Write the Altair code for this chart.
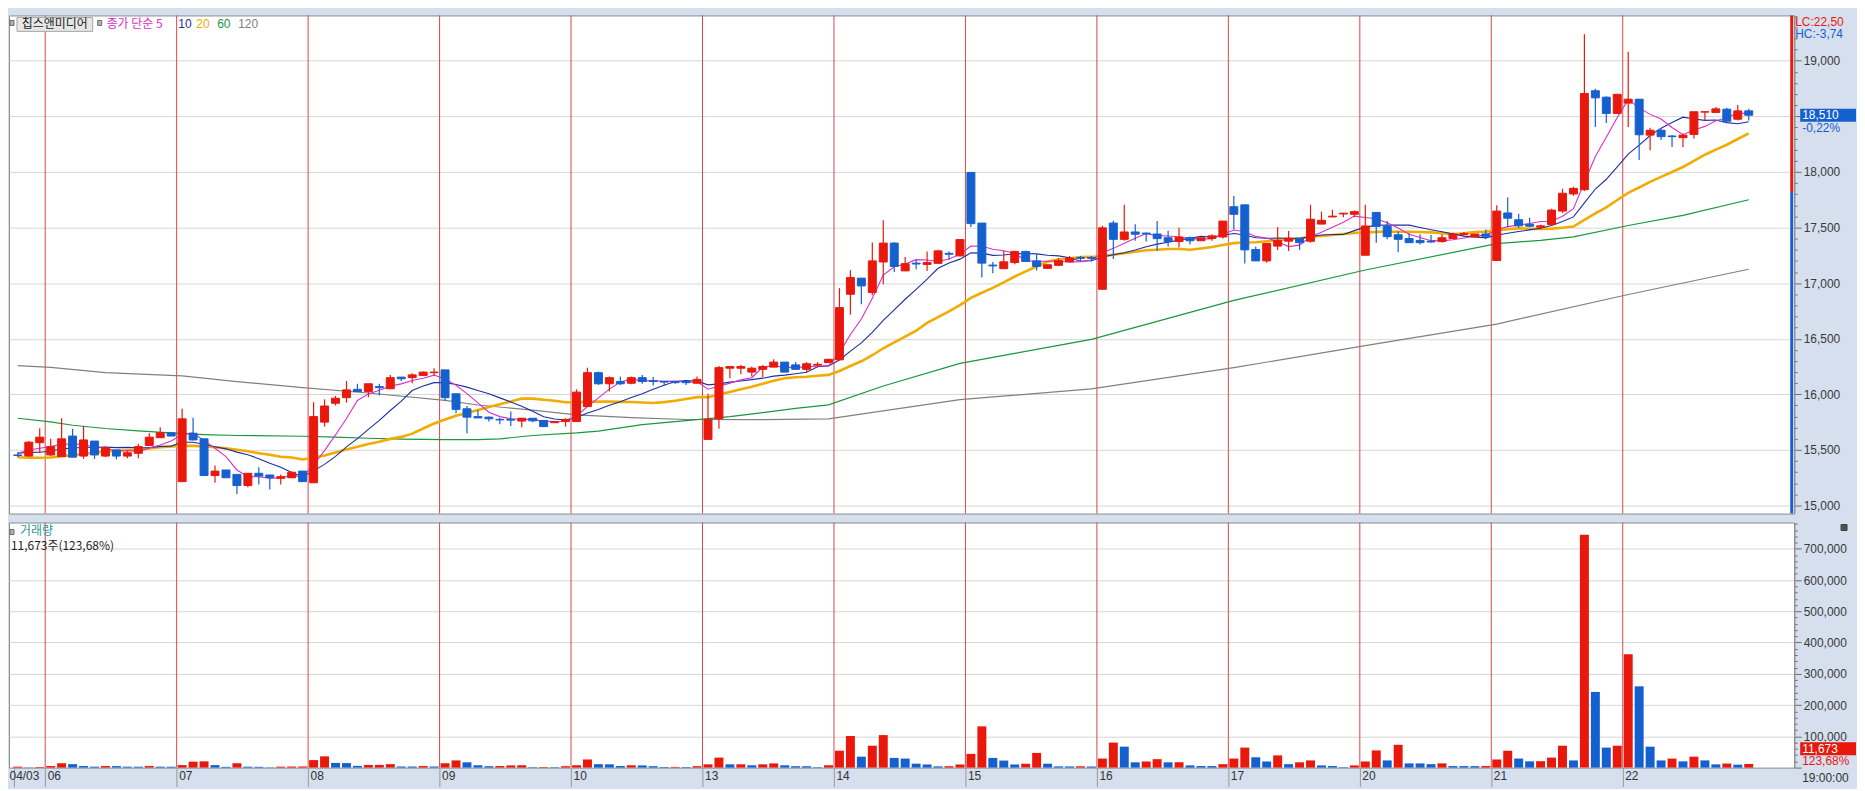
import altair as alt
import pandas as pd
import numpy as np

# ---------------- data ----------------
day_labels = ["04/03", "06", "07", "08", "09", "10", "13", "14", "15", "16", "17", "20", "21", "22"]
day_starts = [0, 3, 15, 27, 39, 51, 63, 75, 87, 99, 111, 123, 135, 147]

opens = [15455, 15445, 15565, 15455, 15440, 15625, 15445, 15580, 15445, 15500, 15445, 15470, 15540, 15610, 15655,
         15215, 15650, 15600, 15270, 15320, 15280, 15180, 15290, 15275, 15245, 15250, 15310,
         15205, 15750, 15920, 15970, 16045, 16025, 16070, 16050, 16155, 16150, 16170, 16195,
         16220, 16005, 15870, 15800, 15795, 15775, 15775, 15760, 15785, 15765, 15745, 15755,
         15755, 15890, 16195, 16095, 16115, 16100, 16150, 16122, 16117, 16115, 16115, 16100,
         15595, 15780, 16235, 16235, 16200, 16225, 16245, 16290, 16265, 16225, 16262, 16285,
         16310, 16900, 17045, 16915, 17190, 17360, 17110, 17180, 17168, 17178, 17268, 17245,
         17995, 17540, 17162, 17130, 17185, 17285, 17200, 17133, 17160, 17192, 17230, 17230,
         16945, 17540, 17394, 17460, 17450, 17442, 17408, 17374, 17408, 17381, 17401, 17415,
         17687, 17704, 17302, 17200, 17333, 17377, 17404, 17377, 17531, 17595, 17622, 17619,
         17251, 17636, 17510, 17435, 17401, 17384, 17377, 17374, 17401, 17439, 17415, 17442,
         17203, 17631, 17570, 17529, 17503, 17526, 17648, 17802, 17840, 18730, 18672, 18526,
         18619, 18654, 18331, 18375, 18323, 18308, 18337, 18538, 18535, 18564, 18474, 18549]
highs = [15480, 15580, 15695, 15600, 15785, 15690, 15715, 15580, 15530, 15500, 15490, 15555, 15650, 15705, 15655,
         15870, 15790, 15600, 15360, 15320, 15280, 15290, 15345, 15275, 15280, 15305, 15310,
         15930, 15955, 15985, 16120, 16095, 16095, 16095, 16175, 16155, 16190, 16205, 16235,
         16220, 16005, 15895, 15860, 15800, 15790, 15845, 15785, 15785, 15765, 15755, 15785,
         16045, 16240, 16205, 16160, 16160, 16160, 16175, 16155, 16117, 16115, 16115, 16160,
         16005, 16255, 16250, 16265, 16250, 16265, 16315, 16290, 16290, 16290, 16290, 16320,
         16955, 17115, 17045, 17365, 17565, 17370, 17235, 17210, 17285, 17300, 17285, 17392,
         17995, 17540, 17190, 17290, 17292, 17292, 17258, 17168, 17226, 17244, 17244, 17244,
         17515, 17560, 17705, 17530, 17456, 17558, 17470, 17497, 17420, 17408, 17440, 17558,
         17783, 17704, 17330, 17357, 17503, 17469, 17404, 17704, 17643, 17660, 17633, 17653,
         17704, 17636, 17558, 17466, 17449, 17439, 17432, 17439, 17456, 17459, 17442, 17483,
         17701, 17770, 17625, 17587, 17526, 17669, 17849, 17866, 19238, 18747, 18680, 18698,
         19081, 18654, 18398, 18390, 18331, 18346, 18541, 18541, 18584, 18578, 18602, 18567]
lows = [15435, 15440, 15475, 15445, 15440, 15435, 15420, 15420, 15435, 15415, 15425, 15425, 15540, 15610, 15625,
        15215, 15585, 15270, 15205, 15250, 15105, 15165, 15190, 15145, 15190, 15250, 15215,
        15205, 15710, 15900, 15925, 16025, 15975, 15990, 16050, 16120, 16100, 16170, 16170,
        15940, 15830, 15650, 15788, 15755, 15730, 15715, 15705, 15750, 15710, 15745, 15710,
        15755, 15890, 16085, 16025, 16085, 16090, 16095, 16080, 16080, 16095, 16085, 16100,
        15595, 15690, 16145, 16180, 16160, 16155, 16245, 16200, 16225, 16200, 16245, 16285,
        16310, 16715, 16810, 16890, 16990, 17100, 17110, 17125, 17110, 17178, 17210, 17240,
        17505, 17050, 17090, 17130, 17170, 17195, 17113, 17130, 17160, 17192, 17195, 17195,
        16945, 17217, 17380, 17380, 17374, 17292, 17330, 17320, 17347, 17381, 17381, 17401,
        17483, 17176, 17200, 17183, 17299, 17289, 17299, 17364, 17531, 17595, 17592, 17592,
        17251, 17364, 17394, 17278, 17364, 17347, 17364, 17364, 17401, 17421, 17415, 17394,
        17203, 17503, 17497, 17503, 17483, 17526, 17631, 17785, 17828, 18404, 18439, 18526,
        18404, 18108, 18195, 18288, 18224, 18224, 18300, 18462, 18535, 18456, 18462, 18462]
closes = [15450, 15570, 15615, 15530, 15600, 15435, 15590, 15455, 15520, 15445, 15475, 15530, 15615, 15655, 15625,
          15780, 15590, 15270, 15310, 15250, 15180, 15290, 15265, 15250, 15260, 15300, 15215,
          15800, 15895, 15965, 16040, 16025, 16095, 16060, 16150, 16140, 16175, 16200, 16200,
          15970, 15865, 15795, 15788, 15780, 15770, 15768, 15785, 15762, 15710, 15755, 15775,
          16020, 16195, 16095, 16150, 16095, 16150, 16115, 16115, 16110, 16105, 16105, 16135,
          15775, 16240, 16250, 16250, 16235, 16250, 16290, 16200, 16225, 16275, 16270, 16315,
          16780, 17050, 16975, 17200, 17360, 17150, 17175, 17172, 17185, 17290, 17260, 17392,
          17535, 17180, 17155, 17192, 17285, 17195, 17150, 17165, 17202, 17226, 17223, 17223,
          17497, 17394, 17460, 17440, 17442, 17400, 17374, 17415, 17381, 17408, 17425, 17558,
          17619, 17299, 17200, 17357, 17384, 17404, 17364, 17575, 17565, 17602, 17629, 17643,
          17514, 17510, 17418, 17394, 17364, 17364, 17370, 17408, 17442, 17446, 17442, 17421,
          17648, 17584, 17515, 17512, 17515, 17657, 17808, 17852, 18706, 18666, 18526, 18698,
          18654, 18334, 18375, 18317, 18317, 18331, 18541, 18541, 18567, 18456, 18549, 18510]
volumes = [3000, 1500, 2000, 5000, 14000, 11000, 5000, 3000, 5000, 4800, 3000, 2900, 5000, 3000, 2800,
           8000, 19000, 20000, 8000, 2500, 14000, 3000, 2500, 1000, 3000, 3500, 3600,
           24000, 36000, 15000, 14500, 5500, 8500, 8700, 11000, 3500, 3400, 5000, 3500,
           14000, 23000, 17000, 7500, 4500, 5000, 7000, 7500, 1500, 2000, 1500, 4500,
           7500, 26000, 11000, 10500, 5000, 7500, 7000, 4500, 2000, 2200, 1800, 4500,
           10500, 32000, 10500, 10600, 7500, 10500, 13500, 7500, 4500, 4400, 1500, 7500,
           54000, 101000, 35000, 70000, 104000, 31000, 29000, 12500, 10000, 4000, 4500, 10000,
           44000, 132000, 31000, 22500, 10000, 12500, 47000, 12500, 4000, 3800, 4200, 3500,
           29000, 80000, 67000, 17000, 19600, 27000, 17000, 17200, 7000, 5000, 4900, 11000,
           29000, 64000, 33000, 19600, 39000, 11000, 17000, 23000, 7000, 5000, 1500, 7000,
           19600, 55000, 23000, 73000, 13500, 13400, 11000, 13500, 4900, 4800, 4700, 5000,
           26000, 54000, 29000, 20000, 20500, 32000, 70000, 23000, 745000, 242000, 64000, 70000,
           363000, 260000, 67000, 23000, 29000, 20000, 35000, 23000, 10400, 13000, 9440, 11673]

# moving-average values before enough candles exist
ma5_head = [15470, 15500, 15515, 15530]
ma10_head = [15470, 15478, 15480, 15488, 15510, 15518, 15522, 15524, 15525]
ma20_head = [15435, 15430, 15430, 15432, 15444, 15455, 15464, 15476, 15487, 15493, 15496,
             15502, 15514, 15525, 15531, 15537, 15537, 15531, 15525]
ma60_k = [0, 3, 5, 8, 11, 15, 17, 20, 26, 29, 32, 35, 39, 42, 44, 47, 51, 53, 57, 62, 65, 68, 71, 74,
          79, 86, 91, 98, 111, 123, 135, 139, 142, 147, 152, 158]
ma60_v = [15785, 15752, 15722, 15693, 15672, 15646, 15637, 15630, 15623, 15616, 15605, 15598, 15592,
          15593, 15600, 15630, 15653, 15670, 15728, 15772, 15799, 15836, 15874, 15905,
          16075, 16278, 16368, 16495, 16845, 17118, 17355, 17385, 17416, 17518, 17610, 17750]
ma120_k = [0, 3, 8, 15, 20, 26, 32, 39, 42, 47, 51, 56, 61, 68, 74, 86, 98, 111, 123, 135, 147, 158]
ma120_v = [16259, 16243, 16195, 16166, 16114, 16061, 16012, 15945, 15904, 15858, 15815, 15791, 15774,
           15773, 15780, 15952, 16050, 16240, 16438, 16632, 16898, 17125]

stock_name = "칩스앤미디어"
ma_names = ["종가 단순 5", "10", "20", "60", "120"]
last_change = "-0,22%"
volume_ratio = "123,68%"
lc_text = "LC:22,50"
hc_text = "HC:-3,74"
side_split = 17820
end_time = "19:00:00"

# ---------------- styling ----------------
RED = "#e8190c"
BLUE = "#1560cf"
SEP = "#d44848"
BG = "#d5dfed"
FONT = "Liberation Sans"
KFONT = "Noto Sans CJK KR"
MA_COLORS = ["#dd2ec8", "#1c2fa0", "#f2ab00", "#17993c", "#808080"]

W = 1792
HP = 500
HV = 246
xdom = [-0.35, 161.7]
pdom = [14928, 19407]
vdom = [0, 784000]

# ---------------- frames ----------------
n = len(closes)
df = pd.DataFrame({"k": np.arange(n), "open": opens, "high": highs, "low": lows,
                   "close": closes, "vol": volumes})
df["dir"] = np.where(df["close"] >= df["open"], "up", "down")
df["top"] = df[["open", "close"]].max(axis=1)
df["bot"] = df[["open", "close"]].min(axis=1)
prev = df["vol"].shift(1)
df["vdir"] = np.where(prev.isna() | (df["vol"] > prev), "up", "down")

cs = pd.Series(closes, dtype=float)
for win, head in [(5, ma5_head), (10, ma10_head), (20, ma20_head)]:
    m = cs.rolling(win).mean().to_numpy()
    m[:win - 1] = head
    df[f"ma{win}"] = m

ma60 = pd.DataFrame({"k": ma60_k, "v": ma60_v})
ma120 = pd.DataFrame({"k": ma120_k, "v": ma120_v})

bounds = [s - 0.5 for s in day_starts[1:]]
days_df = pd.DataFrame({"b": bounds})
xvals = [xdom[0]] + bounds
label_expr = " : ".join(
    f"abs(datum.value - ({v})) < 0.01 ? '{l}'" for v, l in zip(xvals, day_labels)) + " : ''"

xs = alt.Scale(domain=xdom, nice=False, zero=False)
ps = alt.Scale(domain=pdom, nice=False, zero=False)
vs = alt.Scale(domain=vdom, nice=False, zero=False)
col = alt.Scale(domain=["up", "down"], range=[RED, BLUE])

price_ticks = list(range(15000, 19401, 100))
vol_ticks = list(range(0, 780001, 20000))

price_axis = alt.Axis(
    orient="right", title=None, values=price_ticks,
    labelExpr="datum.value % 500 === 0 ? format(datum.value, ',') : ''",
    tickSize={"condition": {"test": "datum.value % 500 === 0", "value": 7}, "value": 3},
    gridOpacity={"condition": {"test": "datum.value % 500 === 0", "value": 1}, "value": 0},
    gridColor="#d6d6d6", tickColor="#6e6e6e", domainColor="#8c8c8c",
    labelFont=FONT, labelFontSize=12, labelColor="#3a3a3a", labelPadding=2,
    labelOverlap=False, labelBaseline="middle")
vol_axis = alt.Axis(
    orient="right", title=None, values=vol_ticks,
    labelExpr="datum.value % 100000 === 0 && datum.value > 0 ? format(datum.value, ',') : ''",
    tickSize={"condition": {"test": "datum.value % 100000 === 0", "value": 7}, "value": 3},
    gridOpacity={"condition": {"test": "datum.value % 100000 === 0 && datum.value > 0", "value": 1}, "value": 0},
    gridColor="#d6d6d6", tickColor="#6e6e6e", domainColor="#8c8c8c",
    labelFont=FONT, labelFontSize=12, labelColor="#3a3a3a", labelPadding=2,
    labelOverlap=False, labelBaseline="middle")
x_axis = alt.Axis(
    values=xvals, labelExpr=label_expr, title=None, grid=False, domain=False,
    tickSize=19, tickColor="#9a9a9a", labelAlign="left", labelBaseline="top",
    labelPadding=-16,
    labelOffset={"condition": {"test": "datum.value < 0", "value": -5}, "value": 2},
    labelFlush=False, labelFont=FONT,
    labelFontSize=12, labelColor="#333333", labelOverlap=False)


def XP(f):
    return alt.X(f, scale=xs, axis=None)


def YP(f):
    return alt.Y(f, scale=ps, axis=price_axis)


def XV(f):
    return alt.X(f, scale=xs, axis=x_axis)


def YV(f):
    return alt.Y(f, scale=vs, axis=vol_axis)


def txt(t, x, y, color, size=12, font=FONT, align="left"):
    return alt.Chart(pd.DataFrame({"t": [t]})).mark_text(
        align=align, baseline="middle", color=color, fontSize=size, font=font
    ).encode(x=alt.value(x), y=alt.value(y), text="t:N")


def box(x1, x2, y1, y2, fill, stroke):
    return alt.Chart(pd.DataFrame({"a": [0]})).mark_rect(
        fill=fill, stroke=stroke, strokeWidth=1
    ).encode(x=alt.value(x1), x2=alt.value(x2), y=alt.value(y1), y2=alt.value(y2))


# ---------------- price panel ----------------
sep_p = alt.Chart(days_df).mark_rule(color=SEP, strokeWidth=1).encode(x=XP("b:Q"))
l120 = alt.Chart(ma120).mark_line(color=MA_COLORS[4], strokeWidth=1.2).encode(x=XP("k:Q"), y=YP("v:Q"))
l60 = alt.Chart(ma60).mark_line(color=MA_COLORS[3], strokeWidth=1.2).encode(x=XP("k:Q"), y=YP("v:Q"))
l20 = alt.Chart(df).mark_line(color=MA_COLORS[2], strokeWidth=2.6).encode(x=XP("k:Q"), y=YP("ma20:Q"))
l10 = alt.Chart(df).mark_line(color=MA_COLORS[1], strokeWidth=1.1).encode(x=XP("k:Q"), y=YP("ma10:Q"))
l5 = alt.Chart(df).mark_line(color=MA_COLORS[0], strokeWidth=1.1).encode(x=XP("k:Q"), y=YP("ma5:Q"))
wick = alt.Chart(df).mark_rule(strokeWidth=1.2).encode(
    x=XP("k:Q"), y=YP("low:Q"), y2="high:Q",
    color=alt.Color("dir:N", scale=col, legend=None))
body = alt.Chart(df).mark_bar(size=8, strokeWidth=1).encode(
    x=XP("k:Q"), y=YP("bot:Q"), y2="top:Q",
    color=alt.Color("dir:N", scale=col, legend=None),
    stroke=alt.Stroke("dir:N", scale=col, legend=None))

side_df = pd.DataFrame({"y0": [side_split, pdom[0]], "y1": [pdom[1], side_split], "c": ["up", "down"]})
side = alt.Chart(side_df).mark_rect().encode(
    x=alt.value(W - 4), x2=alt.value(W - 1), y=YP("y0:Q"), y2="y1:Q",
    color=alt.Color("c:N", scale=col, legend=None))

last_df = pd.DataFrame({"p": [closes[-1]], "chg": [last_change]})
last_box = alt.Chart(last_df).mark_tick(thickness=13, size=56, color=BLUE, orient="horizontal",
                                        opacity=1).encode(x=alt.value(W + 34), y=YP("p:Q"))
last_txt = alt.Chart(last_df).mark_text(align="left", baseline="middle", color="white",
                                        font=FONT, fontSize=12).encode(
    x=alt.value(W + 8), y=YP("p:Q"), text=alt.Text("p:Q", format=","))
chg_txt = alt.Chart(last_df).mark_text(align="left", baseline="middle", color=BLUE,
                                       font=FONT, fontSize=12, dy=13).encode(
    x=alt.value(W + 8), y=YP("p:Q"), text="chg:N")

legend_layers = [
    box(1, 5, 5, 10, "#b4b4b4", "#6a6a6a"),
    box(8, 84, 2, 16, "#e6e6e6", "#a8a8a8"),
    txt(stock_name, 46, 9, "#1e1e1e", 12, KFONT, "center"),
    box(89, 93, 5, 10, "#b4b4b4", "#6a6a6a"),
    txt(ma_names[0], 98, 9, MA_COLORS[0], 12, KFONT),
    txt(ma_names[1], 170, 9, MA_COLORS[1], 12, FONT),
    txt(ma_names[2], 188, 9, MA_COLORS[2], 12, FONT),
    txt(ma_names[3], 209, 9, MA_COLORS[3], 12, FONT),
    txt(ma_names[4], 230, 9, MA_COLORS[4], 12, FONT),
    txt(lc_text, W + 1, 7, RED, 12, FONT),
    txt(hc_text, W + 1, 19, BLUE, 12, FONT),
]

price = alt.layer(sep_p, l120, l60, l20, l10, l5, wick, body, side,
                  last_box, last_txt, chg_txt, *legend_layers).properties(width=W, height=HP)

# ---------------- volume panel ----------------
sep_v = alt.Chart(days_df).mark_rule(color=SEP, strokeWidth=1).encode(x=XV("b:Q"))
vbars = alt.Chart(df).mark_bar(size=9).encode(
    x=XV("k:Q"), y=YV("vol:Q"),
    color=alt.Color("vdir:N", scale=col, legend=None))
vol_df = pd.DataFrame({"v": [volumes[-1]], "r": [volume_ratio],
                       "info": [f"{volumes[-1]:,}주({volume_ratio})"]})
vol_box = alt.Chart(vol_df).mark_tick(thickness=13, size=56, color=RED, orient="horizontal",
                                      opacity=1).encode(x=alt.value(W + 34), y=alt.value(HV - 19))
vol_txt = alt.Chart(vol_df).mark_text(align="left", baseline="middle", color="white",
                                      font=FONT, fontSize=12).encode(
    x=alt.value(W + 8), y=alt.value(HV - 19), text=alt.Text("v:Q", format=","))
ratio_txt = alt.Chart(vol_df).mark_text(align="left", baseline="middle", color=RED,
                                        font=FONT, fontSize=12).encode(
    x=alt.value(W + 8), y=alt.value(HV - 7), text="r:N")
info_txt = alt.Chart(vol_df).mark_text(align="left", baseline="middle", color="#1e1e1e",
                                       font=KFONT, fontSize=12).encode(
    x=alt.value(2), y=alt.value(24), text="info:N")

vol_layers = [
    box(1, 5, 7, 12, "#b4b4b4", "#6a6a6a"),
    txt("거래량", 11, 9, "#2a9a9a", 12, KFONT),
    box(W + 47, W + 53, 2, 8, "#505050", "#404040"),
    txt(end_time, W + 8, HV + 10, "#333333", 12, FONT),
]

vol = alt.layer(sep_v, vbars, vol_box, vol_txt, ratio_txt, info_txt,
                *vol_layers).properties(width=W, height=HV)

chart = alt.vconcat(price, vol, spacing=2).properties(
    background=BG, padding={"left": 0, "top": 0, "right": 0, "bottom": 0}
).configure_view(stroke="#8c8c8c", fill="#ffffff")

chart.save("out.html", embed_options={"renderer": "svg", "actions": False})
